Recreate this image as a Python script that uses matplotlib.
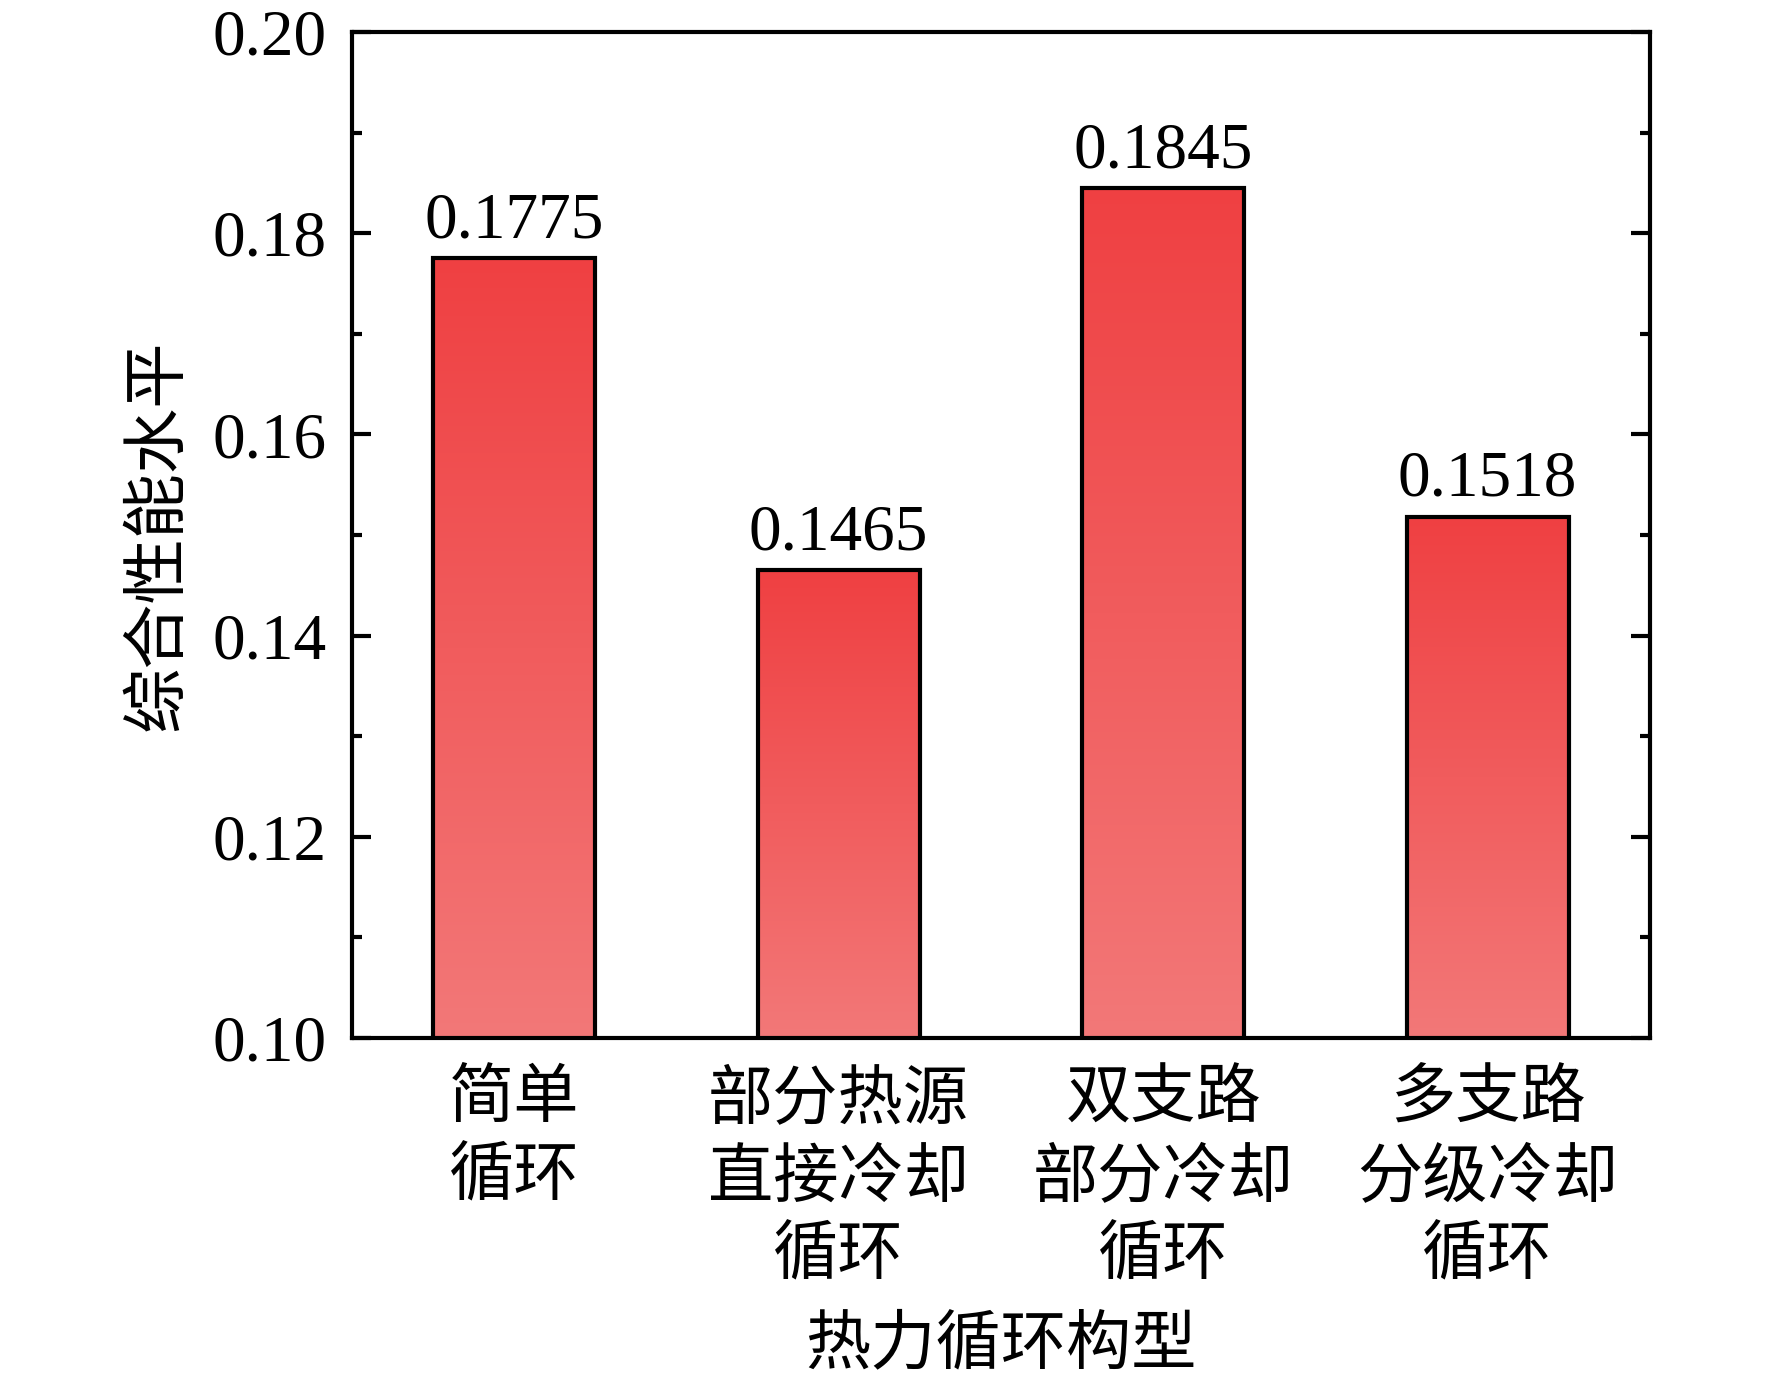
import numpy as np
import matplotlib
matplotlib.use("Agg")
import matplotlib.pyplot as plt
from matplotlib.colors import LinearSegmentedColormap
from matplotlib.ticker import MultipleLocator

categories = ["简单\n循环", "部分热源\n直接冷却\n循环", "双支路\n部分冷却\n循环", "多支路\n分级冷却\n循环"]
values = [0.1775, 0.1465, 0.1845, 0.1518]
yticks = [0.10, 0.12, 0.14, 0.16, 0.18, 0.20]

plt.rcParams['font.family'] = ['Liberation Serif', 'Noto Sans CJK SC']
plt.rcParams['font.size'] = 47

fig = plt.figure(figsize=(17.72, 13.92), dpi=100)
ax = fig.add_axes([0.1986, 0.2543, 0.7325, 0.7227])

grad = LinearSegmentedColormap.from_list("redgrad", ["#F37878", "#EF4042"])
x = np.arange(len(categories))
width = 0.5
ymin, ymax = 0.10, 0.20

for xi, v in zip(x, values):
    g = np.linspace(0, 1, 256).reshape(-1, 1)
    ax.imshow(g, cmap=grad, origin="lower", aspect="auto",
              extent=[xi - width / 2, xi + width / 2, ymin, v], zorder=2)

bars = ax.bar(x, values, width=width, facecolor="none", edgecolor="black",
              linewidth=3, zorder=3)

for xi, v in zip(x, values):
    ax.annotate(f"{v:.4f}", (xi, v), xytext=(0, 5), textcoords="offset points",
                ha="center", va="bottom", fontsize=47)

ax.set_xlim(-0.5, len(categories) - 0.5)
ax.set_ylim(ymin, ymax)
ax.set_xticks(x)
ax.set_xticklabels(categories, linespacing=1.38)
ax.set_yticks(yticks)
ax.set_yticklabels([f"{t:.2f}" for t in yticks])
ax.yaxis.set_minor_locator(MultipleLocator(0.01))

ax.tick_params(axis="y", which="both", direction="in", left=True, right=True,
               width=3, pad=18)
ax.tick_params(axis="y", which="major", length=14)
ax.tick_params(axis="y", which="minor", length=7)
ax.tick_params(axis="x", which="both", length=0, pad=24)

for s in ax.spines.values():
    s.set_linewidth(3)

ax.set_ylabel("综合性能水平", labelpad=16)
ax.set_xlabel("热力循环构型", labelpad=20)

fig.savefig("out.png", dpi=100)
